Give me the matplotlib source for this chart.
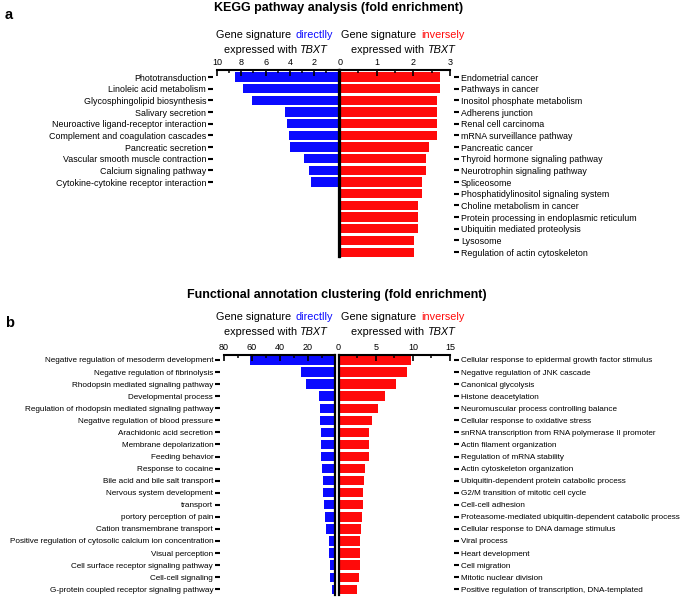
import matplotlib
matplotlib.use("Agg")
from matplotlib import pyplot as plt
import numpy as np

plt.rcParams["font.family"] = ["Liberation Sans", "DejaVu Sans"]

W, H = 684, 600
BLUE = "#0a0aff"
RED = "#ff0a0a"

# panel a: KEGG pathways
kegg_direct_terms = [
    "Phototransduction", "Linoleic acid metabolism", "Glycosphingolipid biosynthesis",
    "Salivary secretion", "Neuroactive ligand-receptor interaction",
    "Complement and coagulation cascades", "Pancreatic secretion",
    "Vascular smooth muscle contraction", "Calcium signaling pathway",
    "Cytokine-cytokine receptor interaction",
]
kegg_direct_fe = [8.5, 7.9, 7.1, 4.4, 4.2, 4.1, 4.0, 2.8, 2.45, 2.25]

kegg_inverse_terms = [
    "Endometrial cancer", "Pathways in cancer", "Inositol phosphate metabolism",
    "Adherens junction", "Renal cell carcinoma", "mRNA surveillance pathway",
    "Pancreatic cancer", "Thyroid hormone signaling pathway",
    "Neurotrophin signaling pathway", "Spliceosome",
    "Phosphatidylinositol signaling system", "Choline metabolism in cancer",
    "Protein processing in endoplasmic reticulum", "Ubiquitin mediated proteolysis",
    "Lysosome", "Regulation of actin cytoskeleton",
]
kegg_inverse_fe = [2.73, 2.73, 2.64, 2.64, 2.64, 2.64, 2.44, 2.34, 2.34, 2.23,
                   2.23, 2.13, 2.13, 2.13, 2.03, 2.03]

# panel b: functional annotation clusters
go_direct_terms = [
    "Negative regulation of mesoderm development", "Negative regulation of fibrinolysis",
    "Rhodopsin mediated signaling pathway", "Developmental process",
    "Regulation of rhodopsin mediated signaling pathway",
    "Negative regulation of blood pressure", "Arachidonic acid secretion",
    "Membrane depolarization", "Feeding behavior", "Response to cocaine",
    "Bile acid and bile salt transport", "Nervous system development", "transport",
    "portory perception of pain", "Cation transmembrane transport",
    "Positive regulation of cytosolic calcium ion concentration",
    "Visual perception", "Cell surface receptor signaling pathway",
    "Cell-cell signaling", "G-protein coupled receptor signaling pathway",
]
go_direct_fe = [61, 24.7, 20.9, 12.0, 10.8, 10.8, 10.3, 10.1, 10.1, 9.8,
                9.1, 8.9, 8.4, 7.7, 6.7, 4.8, 4.6, 4.3, 3.6, 2.4]

go_inverse_terms = [
    "Cellular response to epidermal growth factor stimulus",
    "Negative regulation of JNK cascade", "Canonical glycolysis",
    "Histone deacetylation", "Neuromuscular process controlling balance",
    "Cellular response to oxidative stress",
    "snRNA transcription from RNA polymerase II promoter",
    "Actin filament organization", "Regulation of mRNA stability",
    "Actin cytoskeleton organization", "Ubiquitin-dependent protein catabolic process",
    "G2/M transition of mitotic cell cycle", "Cell-cell adhesion",
    "Proteasome-mediated ubiquitin-dependent catabolic process",
    "Cellular response to DNA damage stimulus", "Viral process",
    "Heart development", "Cell migration", "Mitotic nuclear division",
    "Positive regulation of transcription, DNA-templated",
]
go_inverse_fe = [9.8, 9.2, 7.8, 6.2, 5.3, 4.5, 4.1, 4.05, 4.05, 3.56,
                 3.47, 3.3, 3.25, 3.15, 3.0, 2.95, 2.95, 2.95, 2.75, 2.45]


def px_axes(fig, x0, x1, ytop, ybot):
    return fig.add_axes([x0 / W, 1 - ybot / H, (x1 - x0) / W, (ybot - ytop) / H])


def style(ax, side, major, minor, nrows, top_off, bot_off, labels, fs):
    ax.set_ylim(nrows - 1 + bot_off, -top_off)
    ax.xaxis.tick_top()
    ax.set_xticks(major)
    ax.set_xticks(minor, minor=True)
    ax.tick_params(axis="x", which="major", direction="in", length=4, width=1.2,
                   pad=2, labelsize=6.5)
    ax.tick_params(axis="x", which="minor", direction="in", length=2.5, width=1.1)
    ax.spines["bottom"].set_visible(False)
    ax.spines["top"].set_linewidth(1.5)
    zero = "right" if side == "left" else "left"
    ax.spines[zero].set_linewidth(1.6)
    ax.spines[side].set_position(("outward", 3))
    ax.spines[side].set_visible(False)
    ax.set_yticks(np.arange(len(labels)))
    ax.set_yticklabels(labels, fontsize=fs)
    if side == "left":
        ax.yaxis.tick_left()
    else:
        ax.yaxis.tick_right()
    ax.tick_params(axis="y", direction="out", length=3.8, width=1.5, pad=1)
    ax.set_facecolor("none")


fig = plt.figure(figsize=(W / 100, H / 100), dpi=100)

# ---- panel a ----
n = len(kegg_inverse_terms)
row = 11.67
ytop, ybot = 70, 70 + row * (n - 1 + 0.6 + 0.43)
axl = px_axes(fig, 217, 338.5, ytop, ybot)
axl.barh(np.arange(len(kegg_direct_fe)), kegg_direct_fe, height=0.78, color=BLUE)
axl.set_xlim(10, 0)
style(axl, "left", [10, 8, 6, 4, 2], np.arange(0, 11, 1), n, 0.6, 0.43,
      kegg_direct_terms, 6.4)

axr = px_axes(fig, 340, 450, ytop, ybot)
axr.barh(np.arange(n), kegg_inverse_fe, height=0.78, color=RED)
axr.set_xlim(0, 3)
style(axr, "right", [0, 1, 2, 3], np.arange(0, 3.01, 0.5), n, 0.6, 0.43,
      kegg_inverse_terms, 6.4)

# ---- panel b ----
n = len(go_inverse_terms)
row = 12.07
ytop, ybot = 355, 355 + row * (n - 1 + 0.41 + 0.47)
bxl = px_axes(fig, 224, 335.5, ytop, ybot)
bxl.barh(np.arange(len(go_direct_fe)), go_direct_fe, height=0.78, color=BLUE)
bxl.set_xlim(80, 0)
style(bxl, "left", [80, 60, 40, 20], np.arange(0, 81, 10), n, 0.41, 0.47,
      go_direct_terms, 5.9)

bxr = px_axes(fig, 338.5, 450, ytop, ybot)
bxr.barh(np.arange(n), go_inverse_fe, height=0.78, color=RED)
bxr.set_xlim(0, 15)
style(bxr, "right", [0, 5, 10, 15], np.arange(0, 15.1, 2.5), n, 0.41, 0.47,
      go_inverse_terms, 5.9)


def ftext(x, y, s, **kw):
    fig.text(x / W, 1 - y / H, s, va="center", **kw)


def headers(y1, y2):
    fs = 7.8
    ftext(291, y1, "Gene signature", ha="right", fontsize=fs)
    ftext(296, y1, "directlly", ha="left", fontsize=fs, color=BLUE)
    ftext(297, y2, "expressed with", ha="right", fontsize=fs)
    ftext(299, y2, "TBXT", ha="left", fontsize=fs, style="italic")
    ftext(416, y1, "Gene signature", ha="right", fontsize=fs)
    ftext(421, y1, "inversely", ha="left", fontsize=fs, color=RED)
    ftext(424, y2, "expressed with", ha="right", fontsize=fs)
    ftext(427, y2, "TBXT", ha="left", fontsize=fs, style="italic")


ftext(339, 8, "KEGG pathway analysis (fold enrichment)", ha="center",
      fontsize=9, fontweight="bold")
ftext(5, 15, "a", ha="left", fontsize=10.5, fontweight="bold")
headers(35, 50)

ftext(337, 295, "Functional annotation clustering (fold enrichment)", ha="center",
      fontsize=9, fontweight="bold")
ftext(5, 323, "b", ha="left", fontsize=10.5, fontweight="bold")
headers(317, 332)

fig.savefig("out.png", dpi=100)
